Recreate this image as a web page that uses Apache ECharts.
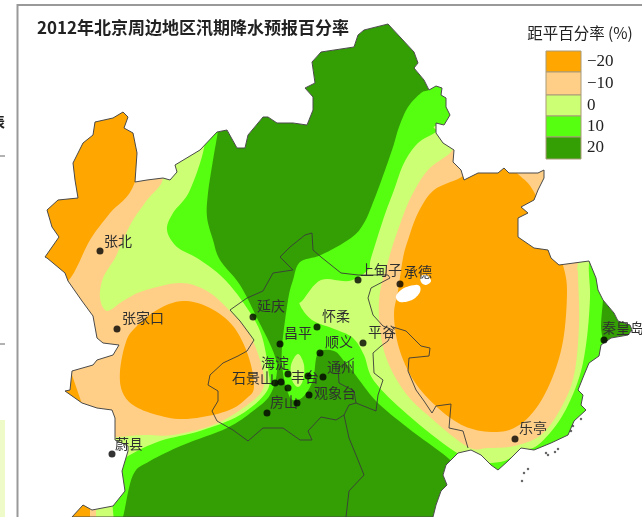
<!DOCTYPE html>
<html><head><meta charset="utf-8">
<style>html,body{margin:0;padding:0;background:#fff}#c{width:642px;height:517px}</style>
<script src="https://cdn.jsdelivr.net/npm/echarts@6/dist/echarts.min.js"></script>
</head><body><div id="c"></div>
<script>
const titleText = '2012年北京周边地区汛期降水预报百分率';
const legendTitle = '距平百分率 (%)';
const legendLabels = ['−20','−10','0','10','20'];
const colOrange='#FFA600', colLight='#FFCF87', colPale='#CCFF73', colGreen='#55FF0F', colDark='#339F05';
const legendColors=[colOrange,colLight,colPale,colGreen,colDark];
const legendEdges=[51,72,95,116,137,159];

const land=[[123,112],[128,117],[124,128],[133,133],[137,153],[135,182],[147,180],[163,178],[170,180],[177,172],[175,165],[200,150],[217,132],[227,130],[237,148],[245,148],[248,135],[263,117],[268,117],[277,123],[293,123],[307,125],[313,110],[313,97],[305,88],[315,83],[312,62],[321,52],[354,47],[358,35],[364,30],[388,24],[401,38],[414,52],[418,63],[414,68],[424,80],[429,90],[436,86],[442,88],[441,95],[446,98],[446,107],[450,115],[444,125],[436,123],[436,133],[443,143],[454,150],[453,162],[461,170],[464,180],[478,173],[498,173],[504,168],[509,173],[538,173],[544,170],[544,178],[538,190],[534,200],[521,207],[528,213],[518,218],[518,237],[534,248],[548,250],[551,258],[559,265],[589,261],[596,278],[598,290],[603,300],[614,313],[618,321],[630,325],[632,330],[628,335],[611,338],[601,345],[599,356],[589,363],[584,375],[578,390],[583,395],[581,405],[586,410],[574,421],[568,435],[551,443],[534,450],[521,448],[508,461],[498,470],[491,465],[481,455],[471,450],[458,453],[446,465],[443,475],[447,485],[441,491],[436,505],[433,517],[72,517],[83,505],[92,510],[113,506],[125,491],[122,471],[128,451],[128,446],[115,440],[115,418],[112,410],[97,408],[82,403],[65,391],[70,390],[72,371],[93,365],[97,360],[113,355],[119,345],[103,343],[97,338],[93,316],[82,301],[68,281],[65,273],[47,258],[45,257],[59,237],[52,227],[47,210],[58,200],[78,198],[75,180],[73,163],[83,143],[93,135],[95,122],[113,118]];

const westGreen=[[218,130],[213,160],[208,193],[207,217],[213,240],[220,260],[240,285],[257,318],[273,351],[277,371],[270,395],[253,411],[227,428],[183,445],[150,461],[133,475],[123,517],[118,530],[60,530],[40,300],[60,120],[150,100],[218,115]];
const westPale=[[205,140],[190,190],[173,213],[167,230],[177,247],[197,258],[220,275],[240,298],[260,331],[268,368],[267,391],[240,415],[200,431],[160,441],[128,456],[110,470],[40,450],[30,200],[120,130],[190,120]];
const westLight=[[163,178],[147,200],[133,220],[123,240],[115,258],[103,278],[100,298],[107,311],[123,301],[143,291],[180,283],[207,291],[230,311],[250,335],[263,371],[262,391],[243,408],[213,425],[173,435],[143,435],[117,437],[60,440],[30,250],[70,120],[150,150]];
const westOrange=[[120,371],[125,345],[133,330],[157,310],[183,301],[210,308],[233,326],[248,355],[254,386],[247,398],[227,411],[187,419],[157,415],[133,405],[122,391]];
const nwOrange=[[135,182],[110,213],[90,240],[68,281],[40,290],[30,150],[80,90],[150,100]];
const smallOrange=[[72,375],[82,404],[60,410],[55,385],[65,370]];
const cornerPale=[[88,500],[112,500],[114,522],[88,522]];
const cornerLight=[[86,500],[96,500],[96,522],[86,522]];
const cornerOrange=[[62,500],[90,500],[90,522],[62,522]];
const eastGreen=[[429,90],[421,93],[408,107],[399,127],[393,147],[384,173],[374,200],[364,223],[351,238],[321,255],[300,262],[293,280],[288,300],[282,347],[283,373],[288,393],[293,400],[303,397],[313,380],[318,353],[334,351],[344,361],[354,373],[376,401],[408,428],[448,458],[470,480],[520,500],[580,440],[601,356],[601,325],[603,300],[605,270],[560,100],[460,80]];
const eastPale=[[436,132],[418,143],[404,163],[394,190],[384,217],[371,258],[368,270],[349,281],[321,280],[303,300],[300,305],[312,320],[337,330],[353,338],[364,355],[374,381],[408,415],[454,451],[480,462],[500,462],[510,458],[520,451],[538,445],[561,418],[578,381],[586,345],[590,298],[589,263],[595,220],[520,120],[440,125]];
const centerPale=[[298,354],[304,365],[303,380],[298,387],[292,380],[291,365]];
const eastLight=[[451,152],[428,170],[411,197],[399,227],[389,258],[379,301],[384,351],[404,391],[431,418],[468,447],[488,448],[514,446],[541,435],[561,408],[574,375],[579,325],[578,275],[578,263],[590,200],[500,130],[460,135]];
const eastOrange=[[463,176],[434,190],[418,213],[408,240],[403,258],[398,291],[394,315],[399,348],[414,381],[438,408],[464,426],[491,432],[514,428],[534,411],[551,381],[563,341],[567,291],[563,265],[555,240],[534,192],[519,175],[500,160],[470,160]];
const lakeBig=[[396,296],[404,288],[418,285],[420,292],[412,300],[400,302]];
const lakeSmall=[[421,276],[427,275],[431,281],[426,285],[421,282]];

const borderA=[[321,257],[313,250],[312,233],[305,235],[290,247],[280,257],[293,270],[273,273],[263,291],[247,298],[230,310],[240,321],[254,340],[247,351],[238,356],[223,363],[210,375],[208,385],[218,391],[218,401],[212,411],[217,421],[233,430],[248,441],[263,428],[283,428],[300,440],[312,440],[308,431],[321,417],[336,420],[344,415],[349,405],[356,403],[376,411],[378,395],[383,380],[374,373],[373,353],[381,346],[388,341],[393,330],[383,326],[373,315],[368,298],[371,288],[390,278],[388,275],[358,275],[341,273],[321,257]];
const borderB=[[393,327],[406,331],[421,346],[430,348],[429,356],[409,358],[408,371],[416,390],[424,401],[432,413],[436,406],[451,404],[449,428],[463,431],[468,448]];
const borderC=[[344,415],[349,438],[356,455],[364,475],[349,491],[346,517]];
const borderD=[[354,358],[338,368],[339,383],[354,391],[356,403]];

const cityNames=['张北','张家口','蔚县','延庆','昌平','怀柔','顺义','平谷','通州','海淀','石景山','丰台','观象台','房山','上甸子','承德','乐亭','秦皇岛'];
const cityLabelPos=[[118,241],[143,318],[129,444],[271,306],[298,333],[336,316],[339,342],[382,332],[341,367],[275,363],[253,378],[305,377],[335,393],[284,402],[381,270],[418,272],[533,428],[623,328]];
const cityDots=[[100,251],[117,329],[112,454],[253,317],[280,344],[317,327],[320,353],[363,343],[323,377],[288,374],[275,383],[308,376],[309,395],[297,403],[358,280],[400,284],[515,439],[604,340],[281,382],[288,388],[267,413]];
const islets=[[522,481],[524,473],[528,469],[548,455],[546,453],[555,452],[558,449],[571,431],[573,426],[581,419]];

const W=642,H=517;
function curve(pix){
  const n=pix.length,out=[];
  for(let i=0;i<n;i++){
    const p0=pix[(i+n-1)%n],p1=pix[i],p2=pix[(i+1)%n],p3=pix[(i+2)%n];
    for(let k=0;k<8;k++){
      const t=k/8,t2=t*t,t3=t2*t;
      out.push([0,1].map(j=>0.5*(2*p1[j]+(p2[j]-p0[j])*t+(2*p0[j]-5*p1[j]+4*p2[j]-p3[j])*t2+(3*p1[j]-p0[j]-3*p2[j]+p3[j])*t3)));
    }
  }
  return out;
}
function poly(points,fill,smooth){
  return {type:'custom',coordinateSystem:'cartesian2d',silent:true,clip:false,data:[[0,0]],
    renderItem:(p,api)=>{
      const pix=points.map(q=>api.coord(q));
      return {type:'polygon',shape:{points:smooth?curve(pix):pix},style:{fill:fill}};
    }};
}
function line(points,color,width){
  return {type:'custom',coordinateSystem:'cartesian2d',silent:true,clip:false,data:[[0,0]],
    renderItem:(p,api)=>({type:'polyline',shape:{points:points.map(q=>api.coord(q))},style:{fill:null,stroke:color,lineWidth:width}})};
}
const maskSeries={type:'custom',coordinateSystem:'cartesian2d',silent:true,data:[[0,0]],
  renderItem:(p,api)=>{
    const hole=land.slice().reverse().map(q=>api.coord(q));
    const d='M0 0L'+W+' 0L'+W+' '+H+'L0 '+H+'Z M'+hole.map(q=>q[0]+' '+q[1]).join('L')+'Z';
    return {type:'path',shape:{pathData:d,x:0,y:0,width:W,height:H},style:{fill:'#fff'}};
  }};
const legendBoxes={type:'custom',coordinateSystem:'cartesian2d',silent:true,data:legendLabels.map((s,i)=>[i]),
  renderItem:(p,api)=>{
    const i=p.dataIndex,a=api.coord([546,legendEdges[i]]),b=api.coord([581,legendEdges[i+1]]);
    return {type:'group',children:[
      {type:'rect',shape:{x:a[0],y:a[1],width:b[0]-a[0],height:b[1]-a[1]},style:{fill:legendColors[i],stroke:'#a99a78',lineWidth:1}},
      {type:'text',style:{text:legendLabels[i],x:b[0]+6,y:(a[1]+b[1])/2,verticalAlign:'middle',fill:'#222',font:'17px "Liberation Serif"'}}
    ]};
  }};
const labelSeries={type:'custom',coordinateSystem:'cartesian2d',silent:true,data:cityNames.map((s,i)=>[i]),
  renderItem:(p,api)=>{
    const i=p.dataIndex,c=api.coord(cityLabelPos[i]);
    return {type:'text',style:{text:cityNames[i],x:c[0],y:c[1],align:'center',verticalAlign:'middle',fill:'#2f2f2f',font:'14px "Noto Sans CJK SC"'}};
  }};
const textSeries={type:'custom',coordinateSystem:'cartesian2d',silent:true,data:[[0,0]],
  renderItem:(p,api)=>{
    const a=api.coord([37,28]),b=api.coord([580,33]),g=api.coord([-9,122]);
    return {type:'group',children:[
      {type:'text',style:{text:titleText,x:a[0],y:a[1],verticalAlign:'middle',fill:'#222',font:'bold 17px "Noto Sans CJK SC"'}},
      {type:'text',style:{text:legendTitle,x:b[0],y:b[1],align:'center',verticalAlign:'middle',fill:'#222',font:'15.5px "Noto Sans CJK SC"'}},
      {type:'text',style:{text:'表',x:g[0],y:g[1],verticalAlign:'middle',fill:'#222',font:'bold 14px "Noto Sans CJK SC"'}}
    ]};
  }};
const frame=[[17.5,517],[17.5,5],[642,5]];
const scrapA=[[0,156],[5,156]], scrapB=[[0,344],[5,344]];
const scrapFill=[[0,420],[5,420],[5,517],[0,517]];

const option={
  animation:false,backgroundColor:'#fff',
  grid:{left:0,right:0,top:0,bottom:0},
  xAxis:{type:'value',min:0,max:W,show:false},
  yAxis:{type:'value',min:0,max:H,inverse:true,show:false},
  series:[
    poly(land,colDark,false),
    poly(westGreen,colGreen,true),poly(westPale,colPale,true),poly(westLight,colLight,true),
    poly(nwOrange,colOrange,true),poly(smallOrange,colOrange,false),
    poly(cornerPale,colPale,false),poly(cornerLight,colLight,false),poly(cornerOrange,colOrange,false),
    poly(westOrange,colOrange,true),
    poly(eastGreen,colGreen,true),poly(centerPale,colPale,true),poly(eastPale,colPale,true),poly(eastLight,colLight,true),poly(eastOrange,colOrange,true),
    maskSeries,
    poly(lakeBig,'#fff',true),poly(lakeSmall,'#fff',true),
    line(land.concat([land[0]]),'#4a4a4a',1),
    line(borderA,'#3a3a3a',0.9),line(borderB,'#3a3a3a',0.9),line(borderC,'#3a3a3a',0.9),line(borderD,'#3a3a3a',0.9),
    {type:'scatter',data:cityDots,symbol:'circle',symbolSize:7,itemStyle:{color:'#000'},silent:true},
    {type:'scatter',data:islets,symbol:'circle',symbolSize:2.5,itemStyle:{color:'#444'},silent:true},
    labelSeries,textSeries,legendBoxes,
    line(frame,'#999',2),
    line(scrapA,'#666',1),line(scrapB,'#666',1),
    poly(scrapFill,'#EEFBC8',false)
  ]
};
echarts.init(document.getElementById('c'),null,{renderer:'canvas'}).setOption(option);
</script></body></html>
